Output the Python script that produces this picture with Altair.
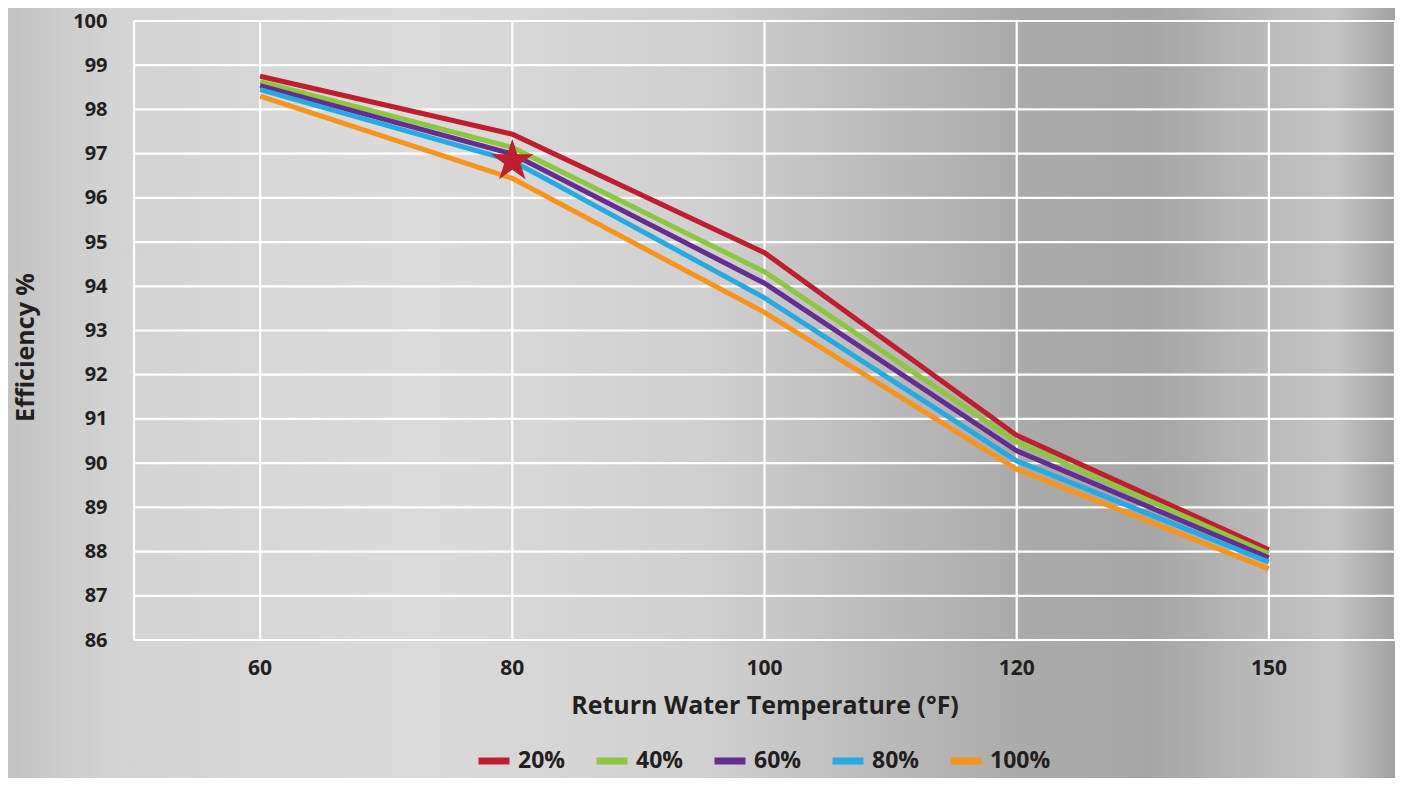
import altair as alt
import pandas as pd

# ---- data ----
temps = ["60", "80", "100", "120", "150"]
loads = ["20%", "40%", "60%", "80%", "100%"]
eff_20 = [98.75, 97.44, 94.76, 90.63, 88.04]
eff_40 = [98.63, 97.14, 94.33, 90.48, 87.95]
eff_60 = [98.54, 96.99, 94.07, 90.28, 87.86]
eff_80 = [98.45, 96.84, 93.74, 90.05, 87.76]
eff_100 = [98.30, 96.44, 93.41, 89.86, 87.61]
star_temp = ["80"]
star_eff = [96.83]
y_ticks = list(range(86, 101))
colors = ["#be1e2d", "#8dc63f", "#662d91", "#27aae1", "#f7941d"]

series = [eff_20, eff_40, eff_60, eff_80, eff_100]
rows = []
for load, vals in zip(loads, series):
    for t, v in zip(temps, vals):
        rows.append({"temp": t, "eff": v, "load": load})
df = pd.DataFrame(rows)

W, H = 1261, 619
FONT = "Open Sans"
TXT = "#231f20"

STAR = ("M0,-1 L0.2245,-0.309 L0.9511,-0.309 L0.3633,0.118 L0.5878,0.809 "
        "L0,0.382 L-0.5878,0.809 L-0.3633,0.118 L-0.9511,-0.309 L-0.2245,-0.309 Z")

x_enc = alt.X("temp:N", sort=temps, scale=alt.Scale(domain=temps),
              axis=alt.Axis(title="Return Water Temperature (°F)", labelAngle=0,
                            domain=False, ticks=False, grid=False, zindex=1,
                            labelFontSize=21, labelFont=FONT, labelFontWeight="bold",
                            labelColor=TXT, labelPadding=17,
                            titleFontSize=25, titleFont=FONT, titleFontWeight="bold",
                            titleColor=TXT, titleY=65, titleBaseline="middle"))
y_enc = alt.Y("eff:Q", scale=alt.Scale(domain=[86, 100], nice=False, zero=False),
              axis=alt.Axis(title="Efficiency %", values=y_ticks, format="d",
                            domain=False, ticks=False, grid=False, zindex=1,
                            labelFontSize=20, labelFont=FONT, labelFontWeight="bold",
                            labelColor=TXT, labelPadding=27,
                            titleFontSize=25, titleFont=FONT, titleFontWeight="bold",
                            titleColor=TXT, titleX=-109, titleY=326,
                            titleBaseline="middle", titleAlign="center"))

grad = alt.Gradient(
    gradient="linear", x1=0, y1=0, x2=1, y2=0,
    stops=[
        alt.GradientStop(offset=0.0, color="#c2c2c2"),
        alt.GradientStop(offset=0.08, color="#d3d3d3"),
        alt.GradientStop(offset=0.3, color="#dbdbdb"),
        alt.GradientStop(offset=0.5, color="#d0d0d0"),
        alt.GradientStop(offset=0.62, color="#bcbcbc"),
        alt.GradientStop(offset=0.73, color="#aaaaaa"),
        alt.GradientStop(offset=0.82, color="#a6a6a6"),
        alt.GradientStop(offset=0.9, color="#bababa"),
        alt.GradientStop(offset=0.95, color="#c4c4c4"),
        alt.GradientStop(offset=1.0, color="#9c9c9c"),
    ])

bg = alt.Chart(pd.DataFrame({"a": [0]})).mark_rect(fill=grad).encode(
    x=alt.value(-134), x2=alt.value(W + 10), y=alt.value(-21), y2=alt.value(H + 160))

hgrid = alt.Chart(pd.DataFrame({"eff": y_ticks})).mark_rule(
    color="white", strokeWidth=2.2).encode(y=y_enc)

vgrid = alt.Chart(pd.DataFrame({"temp": temps})).mark_rule(
    color="white", strokeWidth=2.2).encode(x=x_enc)

border = alt.Chart(pd.DataFrame({"side": [0, W]})).mark_rule(
    color="white", strokeWidth=2.2).encode(
    x=alt.X("side:Q", scale=None), y=alt.value(0), y2=alt.value(H))

lines = alt.Chart(df).mark_line(strokeWidth=5, strokeJoin="miter").encode(
    x=x_enc, y=y_enc,
    color=alt.Color("load:N", sort=loads,
                    scale=alt.Scale(domain=loads, range=colors),
                    legend=alt.Legend(title=None, orient="none", direction="horizontal",
                                      legendX=341, legendY=721,
                                      symbolType="stroke", symbolSize=961,
                                      symbolStrokeWidth=7, labelFontSize=23,
                                      labelFont=FONT, labelFontWeight="bold",
                                      labelColor=TXT, columnPadding=16,
                                      labelOffset=5, padding=0)))

star = alt.Chart(pd.DataFrame({"temp": star_temp, "eff": star_eff})).mark_point(
    shape=STAR, filled=True, fill="#be1e2d", size=2000, opacity=1, strokeWidth=0
).encode(x=x_enc, y=y_enc)

chart = alt.layer(bg, hgrid, vgrid, border, lines, star).properties(
    width=W, height=H,
    autosize=alt.AutoSizeParams(type="none"),
    padding={"left": 126, "top": 13, "right": 0, "bottom": 138},
    background="#c8c8c8",
).configure_view(stroke=None)

chart.save("out.html", embed_options={"renderer": "svg", "actions": False})
